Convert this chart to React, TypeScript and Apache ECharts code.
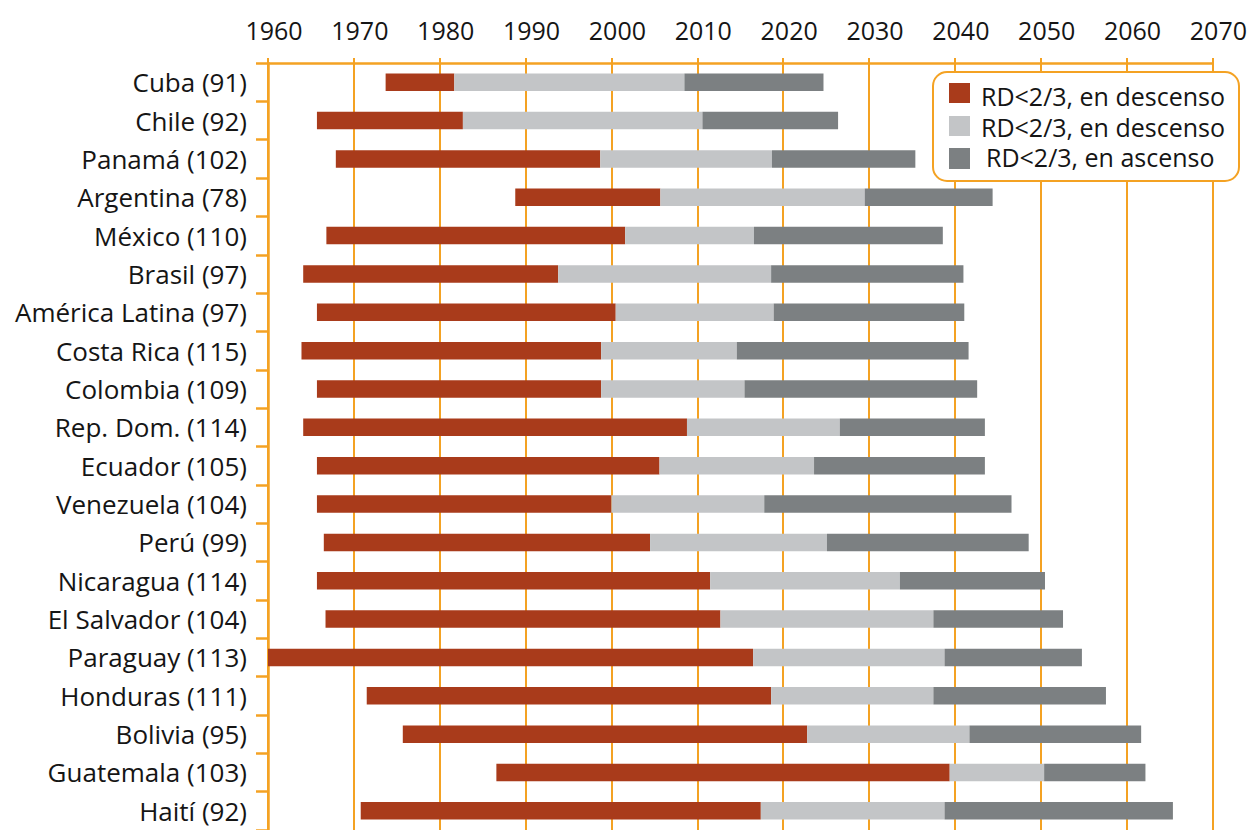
import React, { useEffect, useRef } from "react";
import * as echarts from "echarts";

const categories = [
  "Cuba (91)",
  "Chile (92)",
  "Panamá (102)",
  "Argentina (78)",
  "México (110)",
  "Brasil (97)",
  "América Latina (97)",
  "Costa Rica (115)",
  "Colombia (109)",
  "Rep. Dom. (114)",
  "Ecuador (105)",
  "Venezuela (104)",
  "Perú (99)",
  "Nicaragua (114)",
  "El Salvador (104)",
  "Paraguay (113)",
  "Honduras (111)",
  "Bolivia (95)",
  "Guatemala (103)",
  "Haití (92)",
];

// Year where each phase starts / ends
const startYear = [
  1973.7, 1965.7, 1967.9, 1988.8, 1966.8, 1964.1, 1965.7, 1963.9, 1965.7, 1964.1,
  1965.7, 1965.7, 1966.5, 1965.7, 1966.7, 1960.0, 1971.5, 1975.7, 1986.6, 1970.8,
];
const redEnd = [
  1981.7, 1982.7, 1998.7, 2005.7, 2001.6, 1993.8, 2000.5, 1998.8, 1998.8, 2008.8,
  2005.6, 2000.0, 2004.5, 2011.5, 2012.7, 2016.5, 2018.6, 2022.8, 2039.4, 2017.4,
];
const lightEnd = [
  2008.5, 2010.6, 2018.7, 2029.5, 2016.6, 2018.6, 2018.9, 2014.6, 2015.5, 2026.6,
  2023.6, 2017.8, 2025.1, 2033.6, 2037.5, 2038.8, 2037.5, 2041.7, 2050.4, 2038.8,
];
const darkEnd = [
  2024.7, 2026.4, 2035.4, 2044.4, 2038.6, 2041.0, 2041.1, 2041.6, 2042.6, 2043.5,
  2043.5, 2046.6, 2048.6, 2050.5, 2052.6, 2054.8, 2057.6, 2061.7, 2062.2, 2065.4,
];

const legendLabels = [
  "RD<2/3, en descenso",
  "RD<2/3, en descenso",
  "RD<2/3, en ascenso",
];

const ORANGE = "#F4A223";
const RED = "#A93B1B";
const LIGHT = "#C3C5C7";
const DARK = "#7C8082";
const FONT = '"Open Sans", "Noto Sans", sans-serif';

export default function App() {
  const ref = useRef<HTMLDivElement>(null);

  useEffect(() => {
    if (!ref.current) return;
    const chart = echarts.init(ref.current, undefined, { renderer: "svg" });

    const r1 = (v: number) => Math.round(v * 10) / 10;
    const base = startYear.map((v) => v);
    const red = redEnd.map((v, i) => r1(v - startYear[i]));
    const light = lightEnd.map((v, i) => r1(v - redEnd[i]));
    const dark = darkEnd.map((v, i) => r1(v - lightEnd[i]));

    const barW = 17.5;

    const legendText = (i: number, x: number, y: number) => ({
      type: "text",
      x,
      y,
      style: {
        text: legendLabels[i],
        fill: "#151515",
        font: `25px ${FONT}`,
        lineHeight: 26,
        verticalAlign: "middle",
      },
      z: 101,
    });

    chart.setOption({
      animation: false,
      backgroundColor: "#ffffff",
      textStyle: { fontFamily: FONT },
      grid: { left: 268, top: 63, width: 946, height: 770.5 },
      xAxis: {
        type: "value",
        position: "top",
        min: 1960,
        max: 2070,
        interval: 10,
        axisLine: { show: true, lineStyle: { color: ORANGE, width: 2.5 } },
        axisTick: { show: true, length: 5, lineStyle: { color: ORANGE, width: 2 } },
        splitLine: { show: true, lineStyle: { color: ORANGE, width: 2 } },
        axisLabel: {
          fontSize: 25,
          color: "#151515",
          fontFamily: FONT,
          margin: 21,
          padding: [0, 0, 0, 12],
          formatter: (v: number) => String(v),
        },
      },
      yAxis: {
        type: "category",
        inverse: true,
        data: categories,
        axisLine: { show: true, lineStyle: { color: ORANGE, width: 2.5 } },
        axisTick: { show: true, length: 12, lineStyle: { color: ORANGE, width: 2.5 } },
        splitLine: { show: false },
        axisLabel: { fontSize: 26, color: "#151515", fontFamily: FONT, margin: 21 },
      },
      series: [
        {
          type: "bar",
          stack: "t",
          data: base,
          barWidth: barW,
          silent: true,
          itemStyle: { color: "rgba(0,0,0,0)" },
        },
        {
          type: "bar",
          stack: "t",
          name: legendLabels[0],
          data: red,
          barWidth: barW,
          itemStyle: { color: RED },
        },
        {
          type: "bar",
          stack: "t",
          name: legendLabels[1] + " ",
          data: light,
          barWidth: barW,
          itemStyle: { color: LIGHT },
        },
        {
          type: "bar",
          stack: "t",
          name: legendLabels[2],
          data: dark,
          barWidth: barW,
          itemStyle: { color: DARK },
        },
      ],
      graphic: [
        {
          type: "rect",
          shape: { x: 933, y: 72, width: 306, height: 109, r: 14 },
          style: { fill: "#ffffff", stroke: ORANGE, lineWidth: 2 },
          z: 100,
        },
        {
          type: "rect",
          shape: { x: 949, y: 83, width: 21, height: 20 },
          style: { fill: RED },
          z: 101,
        },
        {
          type: "rect",
          shape: { x: 949, y: 116, width: 21, height: 20 },
          style: { fill: LIGHT },
          z: 101,
        },
        {
          type: "rect",
          shape: { x: 949, y: 148, width: 21, height: 21 },
          style: { fill: DARK },
          z: 101,
        },
        legendText(0, 981, 96),
        legendText(1, 981, 126.5),
        legendText(2, 986, 157),
      ],
    });

    return () => {
      chart.dispose();
    };
  }, []);

  return (
    <div
      ref={ref}
      style={{
        position: "fixed",
        left: 0,
        top: 0,
        width: 1250,
        height: 830,
        background: "#fff",
      }}
    />
  );
}
